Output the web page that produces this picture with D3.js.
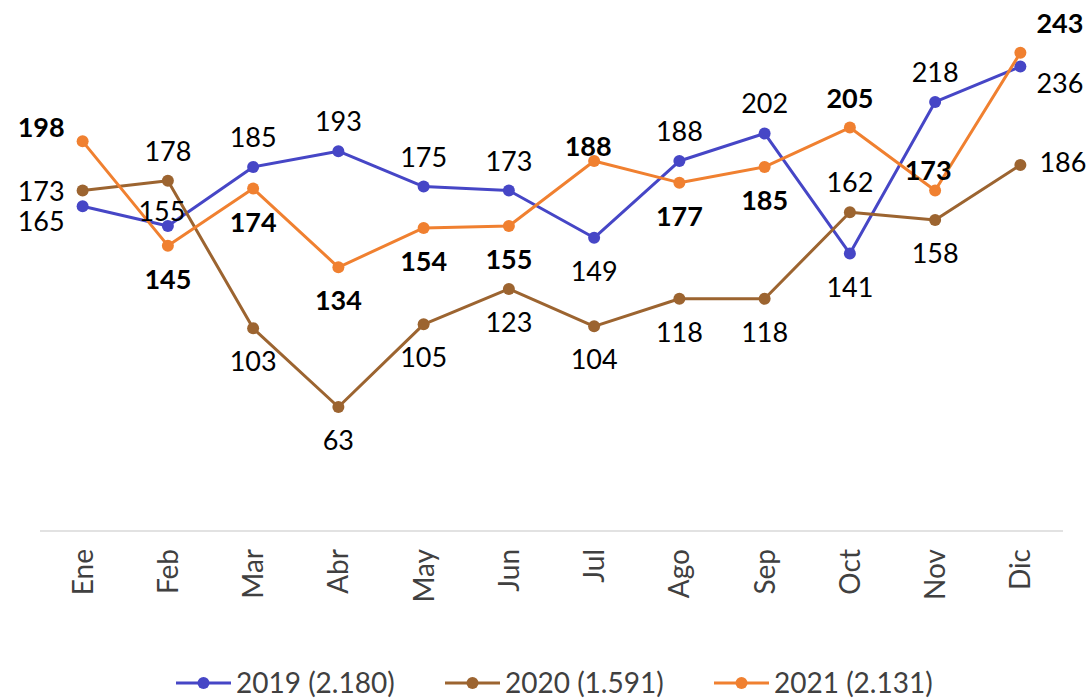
<!DOCTYPE html>
<html>
<head>
<meta charset="utf-8">
<script src="https://cdn.jsdelivr.net/npm/d3@7"></script>
<style>
  html, body { margin: 0; padding: 0; background: #fff; }
  svg { display: block; font-family: Lato, "Open Sans", sans-serif; }
</style>
</head>
<body>
<svg id="chart" width="1089" height="698"></svg>
<script>
// Monthly values per year
const months = ["Ene","Feb","Mar","Abr","May","Jun","Jul","Ago","Sep","Oct","Nov","Dic"];
const values2019 = [165,155,185,193,175,173,149,188,202,141,218,236];
const values2020 = [173,178,103,63,105,123,104,118,118,162,158,186];
const values2021 = [198,145,174,134,154,155,188,177,185,205,173,243];
const seriesNames = ["2019 (2.180)", "2020 (1.591)", "2021 (2.131)"];

// Where each value label sits relative to its point
const place2019 = ["lb","tl","t","t","t","t","b","t","t","b","t","rb"];
const place2020 = ["l","t","b","b","b","b","b","b","b","t","b","r"];
const place2021 = ["lt","b","b","b","b","b","tl","b","b","t","tn","rt"];

const colors = ["#4646c6", "#9c6430", "#f08030"];

const series = [
  { name: seriesNames[0], values: values2019, place: place2019, color: colors[0], bold: false },
  { name: seriesNames[1], values: values2020, place: place2020, color: colors[1], bold: false },
  { name: seriesNames[2], values: values2021, place: place2021, color: colors[2], bold: true }
];

const svg = d3.select("#chart");

const x = d3.scaleBand().domain(months).range([40, 1063]);
const y = d3.scaleLinear().domain([0, 250]).range([531, 39]);
const cx = m => x(m) + x.bandwidth() / 2;

// Baseline
svg.append("line")
  .attr("x1", 40).attr("x2", 1063)
  .attr("y1", y(0)).attr("y2", y(0))
  .attr("stroke", "#d9d9d9").attr("stroke-width", 1.5);

// Category axis with rotated labels
const xAxis = svg.append("g")
  .attr("transform", `translate(0,${y(0)})`)
  .call(d3.axisBottom(x).tickSize(0).tickPadding(0));
xAxis.select(".domain").remove();
xAxis.selectAll("text")
  .attr("transform", "rotate(-90)")
  .attr("x", -18).attr("y", 0)
  .attr("dy", "0.36em")
  .attr("text-anchor", "end")
  .attr("font-family", "Lato, sans-serif")
  .attr("font-size", 28)
  .attr("fill", "#404040");

// Lines and markers
const line = d3.line().x((d, i) => cx(months[i])).y(d => y(d));
series.forEach(s => {
  svg.append("path")
    .datum(s.values)
    .attr("d", line)
    .attr("fill", "none")
    .attr("stroke", s.color)
    .attr("stroke-width", 3)
    .attr("stroke-linejoin", "round");
  svg.append("g").selectAll("circle")
    .data(s.values)
    .join("circle")
    .attr("cx", (d, i) => cx(months[i]))
    .attr("cy", d => y(d))
    .attr("r", 6)
    .attr("fill", s.color);
});

// Label offsets: [dx, dy to baseline, anchor]
const offsets = {
  t:  [0, -20, "middle"],
  b:  [0, 43, "middle"],
  tl: [-6, -5, "middle"],
  tn: [-7, -11, "middle"],
  l:  [-18, 10, "end"],
  lt: [-18, -4, "end"],
  lb: [-18, 25, "end"],
  r:  [19, 7, "start"],
  rt: [16, -20, "start"],
  rb: [16, 26, "start"]
};

series.forEach(s => {
  svg.append("g").selectAll("text")
    .data(s.values)
    .join("text")
    .attr("x", (d, i) => cx(months[i]) + offsets[s.place[i]][0])
    .attr("y", (d, i) => y(d) + offsets[s.place[i]][1])
    .attr("text-anchor", (d, i) => offsets[s.place[i]][2])
    .attr("font-size", 27)
    .attr("font-weight", s.bold ? 700 : 400)
    .attr("fill", "#000")
    .text(d => d);
});

// Legend
const legend = svg.append("g").attr("transform", "translate(176,683)");
series.forEach((s, i) => {
  const g = legend.append("g").attr("transform", `translate(${i * 269},0)`);
  g.append("line").attr("x1", 0).attr("x2", 55).attr("y1", 0).attr("y2", 0)
    .attr("stroke", s.color).attr("stroke-width", 3);
  g.append("circle").attr("cx", 27.5).attr("cy", 0).attr("r", 6).attr("fill", s.color);
  g.append("text").attr("x", 60).attr("y", 0).attr("dy", "0.36em")
    .attr("font-size", 28).attr("fill", "#404040")
    .text(s.name);
});
</script>
</body>
</html>
